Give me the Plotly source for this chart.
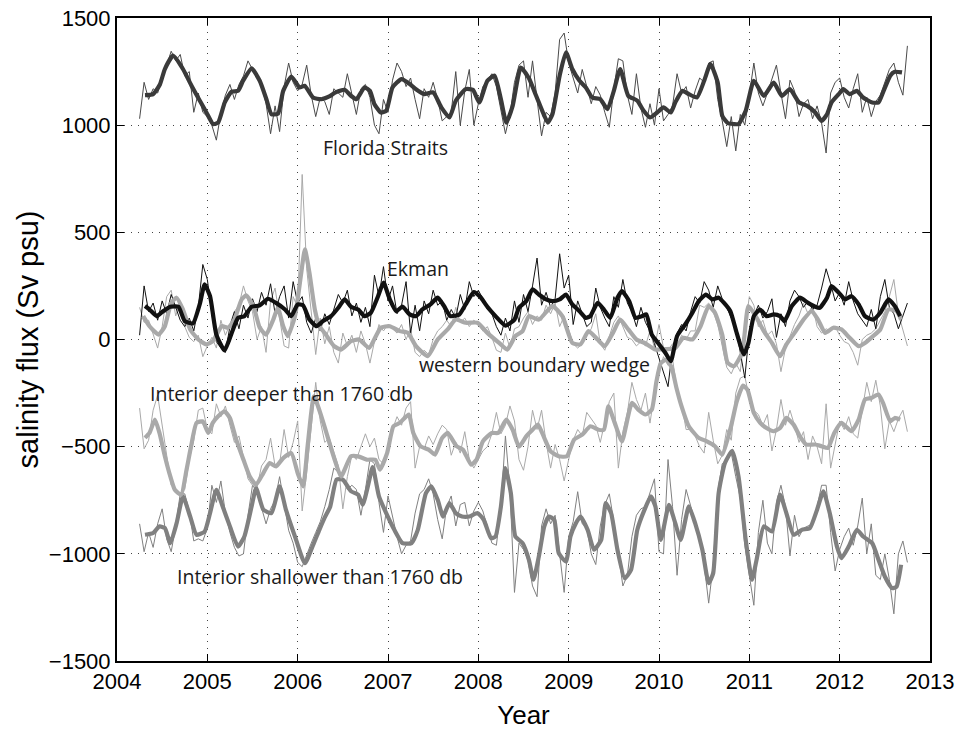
import numpy as np
import plotly.graph_objects as go

# ---------------- data ----------------
# thin (raw) series sampled every 0.05 yr from 2004.25 to 2012.75
RAW_START, RAW_STEP, RAW_N = 2004.25, 0.05, 171

FS_RAW = (
    [1030,1200,1120,1170,1150,1220,1280,1345,1300,1330,1230,1250,1060,1150,1060] +
    [1040,1000,930,1060,1140,1190,1120,1190,1230,1300,1260,1240,1190,1100,960,1090,970,1180,1290,1200] +
    [1160,1190,1280,1140,1040,1130,1110,1050,1170,1150,1130,1240,1150,1050,1170,1190,1130,1000,960,1120] +
    [1060,1210,1290,1250,1180,1220,1120,1030,1170,1130,1200,1120,1020,1040,1060,1250,1000,1160,1260,1000] +
    [1100,1180,1210,1240,1180,1060,960,1050,1200,1280,1300,1130,1300,1120,950,1060,1040,1150,1400,1430] +
    [1290,1220,1150,1260,1180,1100,1180,1140,1060,990,1170,1310,1300,1140,1050,1240,1080,990,1100,1000] +
    [1170,1020,1050,1090,1240,1150,1180,1080,1160,1220,1200,1290,1300,1120,1020,900,1040,880,1050,1000] +
    [1140,1290,1150,1090,1150,1210,1280,1150,1030,1210,1160,1040,1100,1120,1030,1090,1010,870,1150,1200] +
    [1220,1130,1080,1170,1240,1060,1130,1040,1110,1140,1200,1260,1290,1200,1140,1370]
)
EK_RAW = (
    [20,250,130,170,90,180,120,210,150,90,60,100,40,150,350] +
    [280,120,-10,-40,-60,60,130,50,160,100,190,130,220,160,260,120,200,250,100,270] +
    [170,200,80,30,100,40,120,70,140,210,170,230,110,170,80,150,60,300,200,340] +
    [180,250,120,160,270,30,160,40,180,120,230,160,180,90,140,100,210,140,270,200] +
    [230,190,140,120,60,20,100,40,180,80,210,130,250,380,160,220,150,190,400,240] +
    [300,70,180,120,60,80,240,150,100,60,200,150,280,170,130,60,150,80,40,-20] +
    [-90,-150,-220,-40,30,70,40,130,200,170,270,230,150,250,190,150,100,60,-60,-180] +
    [40,110,160,100,130,190,10,120,60,180,230,200,150,180,140,160,240,330,260,180] +
    [220,160,270,180,120,90,60,140,50,200,280,150,120,50,110,170]
)
WB_RAW = (
    [150,80,90,20,-40,60,200,230,110,180,60,10,-10,20,-80] +
    [-30,10,-40,90,20,70,130,160,250,180,130,0,60,-60,180,240,100,-30,-40,200] +
    [150,770,330,120,-70,100,-20,60,-60,-110,30,-30,20,-60,40,-20,-110,-10,70,40] +
    [70,50,30,70,0,50,-60,-80,-50,-70,0,40,60,90,60,150,80,100,60,90] +
    [70,40,60,10,-50,-60,30,-40,50,60,100,130,70,110,90,160,120,170,60,110] +
    [40,-20,-40,-20,20,50,120,-20,-50,20,80,110,60,10,0,-30,-10,-30,40,-40] +
    [70,-40,-50,-20,-30,20,0,40,40,160,150,170,130,70,-30,-130,-160,-110,-150,50] +
    [200,160,60,90,20,40,-20,-150,-40,20,70,110,170,120,160,60,30,50,40,60] +
    [20,-10,-20,-60,-120,0,20,30,50,90,130,200,280,120,50,-30]
)
DEEP_RAW = (
    [-320,-510,-470,-330,-260,-390,-540,-680,-700,-720,-700,-560,-470,-330,-320] +
    [-420,-440,-300,-360,-310,-400,-480,-450,-550,-650,-680,-690,-590,-560,-460,-590,-580,-420,-550,-480] +
    [-380,-800,-620,-400,-200,-380,-480,-460,-530,-590,-790,-640,-540,-560,-500,-440,-500,-460,-560,-580] +
    [-520,-420,-360,-400,-320,-290,-600,-500,-510,-450,-490,-440,-400,-420,-540,-480,-530,-430,-560,-600] +
    [-560,-520,-500,-440,-340,-440,-400,-310,-380,-560,-610,-500,-330,-420,-330,-480,-600,-490,-560,-660] +
    [-560,-470,-420,-450,-340,-370,-400,-480,-380,-290,-250,-600,-430,-340,-200,-280,-330,-250,-390,-250] +
    [-150,-80,-120,-90,-240,-300,-420,-420,-450,-500,-530,-340,-470,-580,-540,-420,-470,-250,-180,-170] +
    [-280,-330,-350,-400,-350,-520,-420,-280,-400,-330,-400,-480,-430,-560,-450,-500,-580,-300,-600,-480] +
    [-380,-420,-360,-440,-460,-330,-200,-290,-190,-310,-510,-380,-430,-370,-330,-430]
)
SHAL_RAW = (
    [-860,-990,-900,-970,-860,-790,-930,-990,-870,-720,-720,-800,-940,-930,-940] +
    [-880,-680,-760,-660,-810,-900,-970,-1010,-1000,-820,-680,-710,-780,-860,-790,-750,-640,-760,-890,-950] +
    [-1040,-1060,-1000,-950,-900,-850,-780,-700,-600,-620,-650,-700,-680,-700,-820,-700,-560,-580,-760,-900] +
    [-730,-830,-920,-1000,-960,-940,-810,-720,-700,-650,-720,-840,-930,-780,-730,-870,-770,-760,-870,-800] +
    [-760,-800,-880,-950,-960,-780,-450,-700,-1180,-950,-980,-1030,-1150,-1200,-870,-790,-860,-820,-1000,-1180] +
    [-920,-850,-710,-860,-880,-1000,-1050,-870,-770,-720,-850,-1000,-1150,-1100,-920,-820,-790,-780,-720,-650] +
    [-990,-1000,-560,-780,-1100,-840,-700,-770,-850,-940,-1050,-1230,-1050,-710,-580,-560,-530,-640,-740,-960] +
    [-1100,-1240,-900,-750,-950,-1000,-760,-680,-780,-1010,-820,-920,-880,-870,-860,-780,-680,-680,-900,-1080] +
    [-980,-920,-880,-960,-870,-740,-1000,-860,-1100,-1120,-1000,-1120,-1280,-1000,-940,-1040]
)

# smoothed series: (year, value)
FS_SMOOTH = [
    (2004.31,1140),(2004.40,1145),(2004.475,1190),(2004.53,1262),(2004.62,1324),(2004.73,1262),
    (2004.825,1184),(2004.917,1114),(2004.99,1059),(2005.064,1005),(2005.12,1012),(2005.193,1106),
    (2005.267,1156),(2005.34,1160),(2005.396,1207),(2005.49,1265),(2005.58,1207),(2005.654,1121),
    (2005.71,1051),(2005.783,1054),(2005.84,1160),(2005.93,1227),(2006.02,1176),(2006.077,1184),
    (2006.17,1129),(2006.26,1121),(2006.35,1134),(2006.42,1153),(2006.52,1165),(2006.59,1137),
    (2006.65,1121),(2006.74,1176),(2006.80,1160),(2006.85,1098),(2006.92,1059),(2006.98,1067),
    (2007.05,1176),(2007.15,1215),(2007.24,1192),(2007.31,1168),(2007.40,1145),(2007.50,1153),
    (2007.59,1083),(2007.68,1036),(2007.75,1114),(2007.86,1168),(2007.94,1165),(2008.01,1106),
    (2008.10,1207),(2008.18,1231),(2008.25,1121),(2008.31,1012),(2008.38,1090),(2008.47,1269),
    (2008.56,1219),(2008.64,1137),(2008.73,1044),(2008.77,1012),(2008.82,1051),(2008.90,1231),
    (2008.97,1340),(2009.04,1262),(2009.12,1207),(2009.19,1176),(2009.26,1129),(2009.35,1121),
    (2009.43,1075),(2009.50,1160),(2009.57,1262),(2009.66,1137),(2009.76,1114),(2009.83,1067),
    (2009.90,1036),(2009.98,1059),(2010.05,1083),(2010.13,1059),(2010.18,1106),(2010.26,1160),
    (2010.33,1145),(2010.42,1129),(2010.50,1207),(2010.57,1285),(2010.65,1199),(2010.70,1044),
    (2010.76,1010),(2010.83,1005),(2010.88,1005),(2010.96,1067),(2011.05,1207),(2011.16,1137),
    (2011.27,1199),(2011.36,1137),(2011.45,1168),(2011.55,1106),(2011.64,1090),(2011.73,1059),
    (2011.80,1020),(2011.86,1051),(2011.91,1106),(2011.99,1145),(2012.04,1168),(2012.11,1145),
    (2012.19,1160),(2012.26,1129),(2012.36,1106),(2012.43,1106),(2012.48,1153),(2012.56,1231),
    (2012.61,1249),(2012.69,1246),
]
EK_SMOOTH = [
    (2004.31,156),(2004.36,140),(2004.44,109),(2004.51,132),(2004.59,153),(2004.68,153),(2004.75,86),
    (2004.84,75),(2004.92,171),(2004.97,257),
    (2005.03,202),(2005.10,23),(2005.19,-51),(2005.27,31),(2005.34,101),(2005.41,109),(2005.49,153),
    (2005.58,159),(2005.67,190),(2005.76,171),(2005.86,140),(2005.93,109),
    (2006.00,164),(2006.06,159),(2006.13,93),(2006.21,62),(2006.28,86),(2006.37,109),(2006.45,148),
    (2006.52,187),(2006.59,153),(2006.67,140),(2006.74,109),(2006.81,125),(2006.89,202),(2006.95,265),
    (2007.02,187),(2007.09,132),(2007.16,153),(2007.24,117),(2007.31,109),(2007.38,140),(2007.47,164),
    (2007.55,195),(2007.62,156),(2007.69,109),(2007.79,117),(2007.86,164),(2007.95,221),
    (2008.02,199),(2008.10,153),(2008.19,109),(2008.30,65),(2008.40,93),(2008.45,148),(2008.53,179),
    (2008.60,234),(2008.67,210),(2008.75,187),(2008.82,179),(2008.90,187),(2008.97,210),
    (2009.04,164),(2009.12,132),(2009.19,101),(2009.24,109),(2009.32,171),(2009.39,140),(2009.46,101),
    (2009.54,195),(2009.59,226),(2009.67,179),(2009.74,101),(2009.81,109),(2009.86,117),(2009.92,23),
    (2009.99,-16),
    (2010.07,-62),(2010.13,-101),(2010.20,16),(2010.29,70),(2010.37,125),(2010.44,179),(2010.52,210),
    (2010.59,187),(2010.66,195),(2010.72,171),(2010.79,132),(2010.86,31),(2010.94,-70),(2010.99,-16),
    (2011.05,109),(2011.12,140),(2011.19,109),(2011.27,117),(2011.34,109),(2011.39,86),(2011.47,156),
    (2011.56,195),(2011.65,171),(2011.73,153),(2011.78,148),(2011.86,195),(2011.91,249),(2011.99,218),
    (2012.06,187),(2012.13,202),(2012.21,164),(2012.28,109),(2012.37,93),(2012.45,125),(2012.54,187),
    (2012.61,156),(2012.67,109),
]
WB_SMOOTH = [
    (2004.29,109),(2004.36,62),(2004.46,23),(2004.53,62),(2004.60,171),(2004.66,195),(2004.73,140),
    (2004.81,47),(2004.90,0),(2004.99,-23),
    (2005.06,-8),(2005.16,62),(2005.23,55),(2005.30,93),(2005.38,187),(2005.43,206),(2005.51,156),
    (2005.58,55),(2005.65,23),(2005.73,93),(2005.78,148),(2005.84,62),(2005.89,16),(2005.97,109),
    (2006.04,312),(2006.08,421),(2006.13,312),(2006.19,140),(2006.24,62),(2006.30,30),(2006.40,-30),
    (2006.48,-47),(2006.59,-8),(2006.68,0),(2006.79,-39),(2006.92,55),
    (2007.02,62),(2007.13,39),(2007.22,31),(2007.31,-31),(2007.44,-78),(2007.55,0),(2007.66,47),
    (2007.75,93),(2007.86,78),(2007.99,78),
    (2008.10,31),(2008.23,-16),(2008.32,-47),(2008.41,16),(2008.49,39),(2008.56,109),(2008.67,93),
    (2008.82,156),(2008.93,109),
    (2009.04,-16),(2009.13,-23),(2009.22,39),(2009.32,0),(2009.40,-31),(2009.49,31),(2009.57,93),
    (2009.66,47),(2009.75,0),(2009.84,-16),(2009.96,-47),
    (2010.07,-45),(2010.18,-40),(2010.27,8),(2010.37,0),(2010.46,62),(2010.55,156),(2010.62,125),
    (2010.70,23),(2010.76,-109),(2010.83,-125),(2010.92,-62),(2010.99,156),
    (2011.07,109),(2011.16,39),(2011.25,-16),(2011.34,-78),(2011.41,-23),(2011.50,31),(2011.60,93),
    (2011.69,133),(2011.76,93),(2011.84,31),(2011.93,55),
    (2012.02,47),(2012.11,8),(2012.21,-31),(2012.28,-16),(2012.37,16),(2012.45,47),(2012.54,140),
    (2012.63,133),(2012.68,93),
]
DEEP_SMOOTH = [
    (2004.31,-459),(2004.36,-436),(2004.42,-374),(2004.47,-436),(2004.53,-545),(2004.59,-639),
    (2004.64,-701),(2004.71,-724),(2004.77,-607),(2004.82,-498),(2004.88,-389),(2004.95,-382),
    (2005.01,-436),(2005.06,-389),(2005.12,-358),(2005.19,-335),(2005.25,-366),(2005.32,-467),
    (2005.40,-561),(2005.47,-639),(2005.54,-677),(2005.62,-623),(2005.69,-576),(2005.76,-592),
    (2005.84,-553),(2005.93,-530),
    (2006.00,-623),(2006.06,-685),(2006.11,-498),(2006.18,-265),(2006.24,-330),(2006.30,-410),
    (2006.35,-480),(2006.41,-561),(2006.48,-639),(2006.59,-545),(2006.67,-545),(2006.77,-561),
    (2006.86,-561),(2006.91,-607),(2006.99,-530),
    (2007.06,-405),(2007.13,-389),(2007.23,-350),(2007.28,-436),(2007.36,-498),(2007.45,-514),
    (2007.52,-537),(2007.60,-459),(2007.66,-436),(2007.76,-498),(2007.83,-514),(2007.92,-584),
    (2007.98,-561),
    (2008.05,-475),(2008.15,-436),(2008.22,-436),(2008.31,-374),(2008.38,-421),(2008.45,-500),
    (2008.53,-452),(2008.60,-421),(2008.66,-397),(2008.73,-459),(2008.80,-522),(2008.89,-545),
    (2008.98,-545),
    (2009.06,-467),(2009.15,-444),(2009.24,-405),(2009.33,-421),(2009.39,-421),(2009.44,-312),
    (2009.51,-389),(2009.59,-475),(2009.70,-296),(2009.77,-327),(2009.85,-350),(2009.92,-327),
    (2009.97,-200),
    (2010.02,-110),(2010.08,-95),(2010.14,-130),(2010.19,-220),(2010.25,-312),(2010.33,-405),
    (2010.44,-459),(2010.53,-475),(2010.62,-498),(2010.70,-537),(2010.80,-400),(2010.86,-290),
    (2010.93,-215),(2010.98,-235),
    (2011.05,-343),(2011.12,-389),(2011.19,-413),(2011.27,-428),(2011.34,-413),(2011.41,-366),
    (2011.49,-397),(2011.56,-452),(2011.63,-490),(2011.73,-490),(2011.80,-498),(2011.87,-506),
    (2011.94,-436),
    (2012.02,-389),(2012.13,-428),(2012.21,-374),(2012.28,-280),(2012.35,-273),(2012.43,-257),
    (2012.48,-296),(2012.56,-382),(2012.61,-366),(2012.67,-374),
]
SHAL_SMOOTH = [
    (2004.31,-911),(2004.40,-903),(2004.47,-872),(2004.53,-880),(2004.59,-950),(2004.66,-857),
    (2004.73,-732),(2004.81,-826),(2004.88,-911),(2004.97,-896),
    (2005.03,-810),(2005.10,-701),(2005.17,-779),(2005.25,-872),(2005.34,-966),(2005.41,-919),
    (2005.49,-779),(2005.54,-693),(2005.62,-794),(2005.71,-810),(2005.80,-685),(2005.87,-794),
    (2005.97,-919),
    (2006.08,-1044),(2006.17,-960),(2006.24,-888),(2006.30,-830),(2006.36,-780),(2006.43,-654),
    (2006.50,-654),(2006.59,-708),(2006.67,-724),(2006.72,-771),(2006.78,-680),(2006.83,-595),
    (2006.90,-732),(2006.98,-810),
    (2007.07,-888),(2007.16,-950),(2007.26,-950),(2007.33,-888),(2007.42,-717),(2007.48,-685),
    (2007.55,-748),(2007.61,-826),(2007.68,-763),(2007.75,-810),(2007.82,-826),(2007.90,-826),
    (2007.99,-810),
    (2008.06,-841),(2008.14,-927),(2008.19,-919),(2008.25,-779),(2008.30,-600),(2008.36,-717),
    (2008.41,-919),(2008.49,-950),(2008.56,-1028),(2008.61,-1121),(2008.67,-1012),(2008.73,-872),
    (2008.78,-826),(2008.84,-841),(2008.89,-997),(2008.97,-1036),
    (2009.02,-919),(2009.08,-857),(2009.13,-826),(2009.21,-888),(2009.28,-981),(2009.36,-935),
    (2009.41,-763),(2009.47,-810),(2009.54,-981),(2009.62,-1114),(2009.69,-1075),(2009.76,-888),
    (2009.84,-794),(2009.91,-732),(2009.96,-779),
    (2010.02,-935),(2010.11,-771),(2010.18,-857),(2010.24,-935),(2010.33,-779),(2010.40,-857),
    (2010.48,-981),(2010.55,-1137),(2010.60,-1090),(2010.66,-717),(2010.73,-576),(2010.81,-520),
    (2010.88,-639),(2010.96,-935),
    (2011.03,-1121),(2011.08,-1028),(2011.16,-872),(2011.25,-896),(2011.34,-724),(2011.41,-810),
    (2011.49,-911),(2011.58,-888),(2011.67,-880),(2011.75,-794),(2011.82,-708),(2011.89,-810),
    (2011.97,-966),
    (2012.02,-1020),(2012.10,-966),(2012.19,-888),(2012.26,-919),(2012.36,-950),(2012.43,-1028),
    (2012.50,-1106),(2012.58,-1160),(2012.63,-1153),(2012.68,-1051),
]

LABELS = [
    ("Florida Straits", 2006.97, 897),
    ("Ekman", 2007.33, 330),
    ("western boundary wedge", 2008.62, -117),
    ("Interior deeper than 1760 db", 2005.82, -252),
    ("Interior shallower than 1760 db", 2006.25, -1107),
]
X_TICKS = list(range(2004, 2014))
Y_TICKS = [-1500, -1000, -500, 0, 500, 1000, 1500]

# ---------------- figure ----------------
for arr in (FS_RAW, EK_RAW, WB_RAW, DEEP_RAW, SHAL_RAW):
    assert len(arr) == RAW_N, len(arr)
t_raw = np.round(RAW_START + RAW_STEP * np.arange(RAW_N), 4)

C_FS, C_EK, C_WB, C_DEEP, C_SHAL = "#3a3a3a", "#111111", "#a9a9a9", "#a9a9a9", "#808080"

fig = go.Figure()
for vals, col in [(FS_RAW, "#4a4a4a"), (SHAL_RAW, C_SHAL), (DEEP_RAW, C_DEEP),
                  (WB_RAW, C_WB), (EK_RAW, C_EK)]:
    fig.add_trace(go.Scatter(x=t_raw, y=vals, mode="lines",
                             line=dict(color=col, width=1), hoverinfo="skip"))

for pts, col in [(SHAL_SMOOTH, C_SHAL), (DEEP_SMOOTH, C_DEEP), (WB_SMOOTH, C_WB),
                 (FS_SMOOTH, C_FS), (EK_SMOOTH, C_EK)]:
    xs = [p[0] for p in pts]
    ys = [p[1] for p in pts]
    fig.add_trace(go.Scatter(x=xs, y=ys, mode="lines",
                             line=dict(color=col, width=4.2, shape="spline", smoothing=0.5)))

for text, x, y in LABELS:
    fig.add_annotation(x=x, y=y, xref="x", yref="y", text=text, showarrow=False,
                       font=dict(family="Open Sans, Noto Sans, sans-serif", size=19.5, color="#1a1a1a"))

axis_common = dict(
    showline=True, linecolor="black", linewidth=2, mirror="ticks",
    ticks="inside", ticklen=7, tickwidth=1, tickcolor="black",
    showgrid=True, gridcolor="#444444", gridwidth=1, griddash="1px,6px",
    zeroline=False, tickfont=dict(size=22, color="black"),
    ticklabeloverflow="allow",
)
fig.update_xaxes(range=[2004, 2013], tickvals=X_TICKS, ticktext=[str(v) for v in X_TICKS],
                 title=dict(text="Year", font=dict(size=26), standoff=14), **axis_common)
fig.update_yaxes(range=[-1500, 1500], tickvals=Y_TICKS,
                 title=dict(text="salinity flux (Sv psu)", font=dict(size=29), standoff=2),
                 **axis_common)
fig.update_layout(
    width=960, height=730,
    margin=dict(l=117, r=30, t=18, b=69, autoexpand=False),
    paper_bgcolor="white", plot_bgcolor="white", showlegend=False,
    font=dict(family="Liberation Sans, Arial, sans-serif", color="black"),
)
# remove the page's default body margin so the figure sits at the window's top-left corner
fig.write_html("out.html", config={"displayModeBar": False},
               post_script="document.body.style.margin='0px';")
